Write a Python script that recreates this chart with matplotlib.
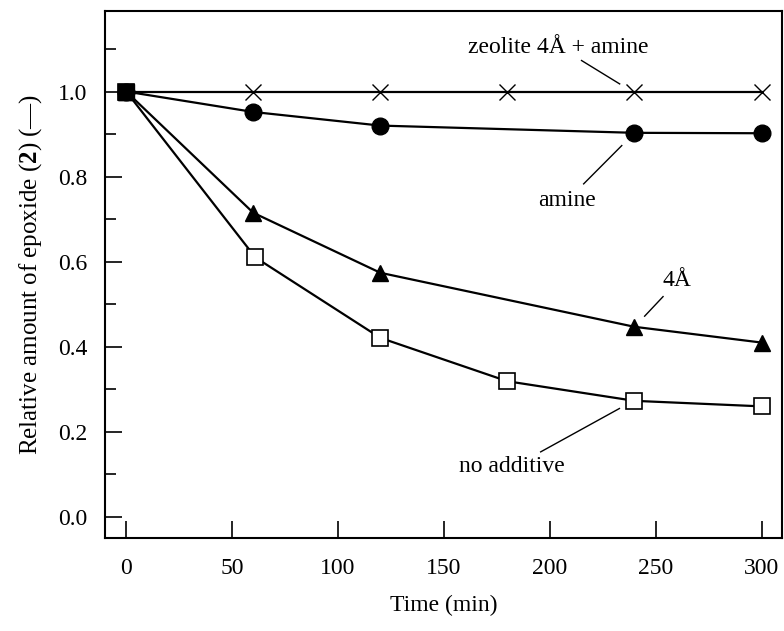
import matplotlib
matplotlib.use('Agg')
import matplotlib.pyplot as plt
from matplotlib.ticker import MultipleLocator

# Relative amount of epoxide vs time
time_zeo = [0, 60, 120, 180, 240, 300]
zeolite_amine = [1.0, 1.0, 1.0, 1.0, 1.0, 1.0]

time_amine = [0, 60, 120, 240, 300]
amine = [1.0, 0.952, 0.92, 0.903, 0.902]

time_4a = [0, 60, 120, 240, 300]
sieve_4a = [1.0, 0.715, 0.574, 0.447, 0.41]

time_none = [0, 61, 120, 180, 240, 300]
no_additive = [1.0, 0.61, 0.421, 0.319, 0.273, 0.26]

x_ticks = [0, 50, 100, 150, 200, 250, 300]
y_ticks = [0.0, 0.2, 0.4, 0.6, 0.8, 1.0]

plt.rcParams['font.family'] = 'Liberation Serif'
plt.rcParams['mathtext.fontset'] = 'custom'
plt.rcParams['mathtext.rm'] = 'Liberation Serif'
plt.rcParams['mathtext.bf'] = 'Liberation Serif:bold'

fig = plt.figure(figsize=(7.84, 6.31), dpi=100)
ax = fig.add_axes([0.134, 0.147, 0.863, 0.836])

lw = 1.6
ax.plot(time_zeo, zeolite_amine, color='black', lw=lw, marker='x', ms=12,
        mew=1.0, zorder=3)
ax.plot(time_amine, amine, color='black', lw=lw, marker='o', ms=12,
        mfc='black', zorder=3)
ax.plot(time_4a, sieve_4a, color='black', lw=lw, marker='^', ms=12,
        mfc='black', zorder=3)
ax.plot(time_none, no_additive, color='black', lw=lw, marker='s', ms=12,
        mfc='white', mew=1.2, zorder=4)
# first point of all series is drawn as a filled square
ax.plot([time_none[0]], [no_additive[0]], marker='s', ms=12, color='black',
        zorder=5)

# labels with leader lines
fs = 17
ax.text(204, 1.104, 'zeolite 4Å + amine', fontsize=fs, ha='center', va='center')
ax.plot([215, 233], [1.073, 1.018], color='black', lw=1.0)
ax.text(208, 0.744, 'amine', fontsize=fs, ha='center', va='center')
ax.plot([216, 234], [0.783, 0.873], color='black', lw=1.0)
ax.text(260, 0.557, '4Å', fontsize=fs, ha='center', va='center')
ax.plot([253.5, 244.8], [0.518, 0.472], color='black', lw=1.0)
ax.text(182, 0.118, 'no additive', fontsize=fs, ha='center', va='center')
ax.plot([195.7, 232.9], [0.153, 0.255], color='black', lw=1.0)

ax.set_xlim(-10, 309.5)
ax.set_ylim(-0.05, 1.19)
ax.set_xticks(x_ticks)
ax.set_yticks(y_ticks)
ax.set_yticklabels([f'{v:.1f}' for v in y_ticks])
ax.yaxis.set_minor_locator(MultipleLocator(0.1))
ax.tick_params(axis='both', which='major', direction='in', length=12,
               width=1.2, labelsize=fs)
ax.tick_params(axis='x', which='major', pad=14)
ax.tick_params(axis='y', which='major', pad=13)
ax.tick_params(axis='y', which='minor', direction='in', length=8, width=1.2)
ax.tick_params(right=False, top=False)
for s in ax.spines.values():
    s.set_linewidth(1.5)

ax.set_xlabel('Time (min)', fontsize=fs, labelpad=12)
ax.set_ylabel(r'Relative amount of epoxide ($\mathbf{2}$) (—)', fontsize=18,
              labelpad=10)

fig.savefig('out.png', dpi=100)
